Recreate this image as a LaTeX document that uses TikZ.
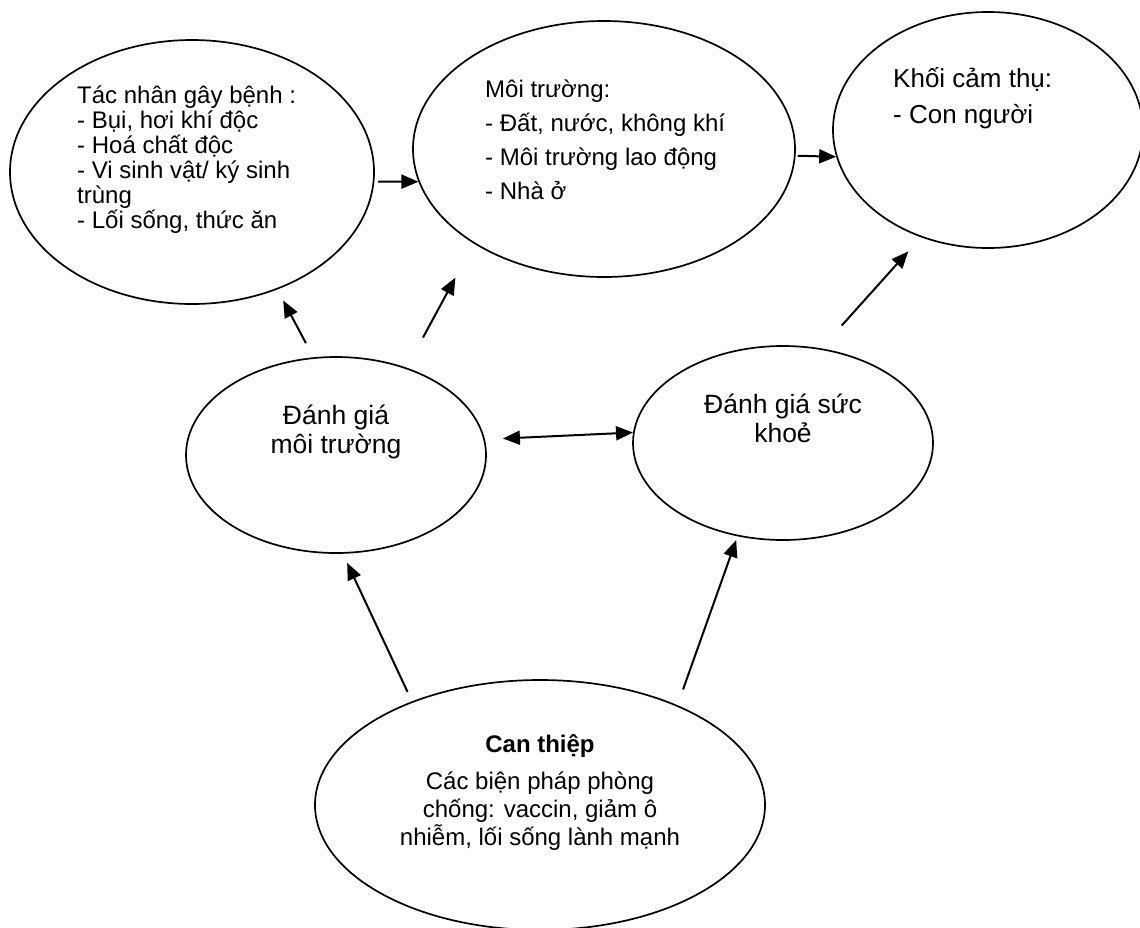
\documentclass[tikz,border=0pt]{standalone}
\usepackage{fontspec}
\setmainfont{Liberation Sans}
\usetikzlibrary{shapes.geometric,arrows.meta}
\begin{document}
\begin{tikzpicture}[x=1pt,y=-1pt,
  oval/.style={draw, ellipse, line width=1.7pt, inner sep=0pt},
  arr/.style={line width=2pt, -{Triangle[length=17pt,width=14pt]}},
  darr/.style={line width=2pt, {Triangle[length=17pt,width=14pt]}-{Triangle[length=17pt,width=14pt]}},
  txt/.style={inner sep=0pt, font=\fontsize{24}{25}\selectfont}]
\fill[white] (0,0) rectangle (1140,927);
\useasboundingbox (0,0) rectangle (1140,927);
% ellipses
\node[oval, minimum width=364pt, minimum height=264pt] (E1) at (192,172) {};
\node[oval, minimum width=382pt, minimum height=256pt] (E2) at (604,149) {};
\node[oval, minimum width=310pt, minimum height=236pt] (E3) at (988,130) {};
\node[oval, minimum width=300pt, minimum height=196pt] (E4) at (336,455) {};
\node[oval, minimum width=300pt, minimum height=194pt] (E5) at (783,443) {};
\node[oval, minimum width=450pt, minimum height=250pt] (E6) at (540,805) {};
% texts (base anchor = baseline of the last line)
\node[txt, anchor=base west, align=left] (T1) at (77,228)
  {Tác nhân gây bệnh :\\- Bụi, hơi khí độc\\- Hoá chất độc\\- Vi sinh vật/ ký sinh\\trùng\\- Lối sống, thức ăn};
\node[txt, font=\fontsize{24}{34}\selectfont, anchor=base west, align=left] (T2) at (485,199)
  {Môi trường:\\- Đất, nước, không khí\\- Môi trường lao động\\- Nhà ở};
\node[txt, font=\fontsize{26}{36}\selectfont, anchor=base west, align=left] (T3) at (893,123)
  {Khối cảm thụ:\\- Con người};
\node[txt, font=\fontsize{26.5}{29}\selectfont, anchor=base, align=center] (T4) at (336,453)
  {Đánh giá\\môi trường};
\node[txt, font=\fontsize{26.5}{29}\selectfont, anchor=base, align=center] (T5) at (783,442)
  {Đánh giá sức\\khoẻ};
\node[txt, font=\fontsize{24}{28}\selectfont, anchor=base, align=center] (T6) at (540,845)
  {\textbf{Can thiệp}\\[9pt]Các biện pháp phòng\\chống: vaccin, giảm ô\\nhiễm, lối sống lành mạnh};
% connectors
\draw[arr, shorten <=3.5pt] (E1.-3.15) -- (E2.190.1);
\draw[arr, shorten <=2pt] (E2.-2.7) -- (E3.190.5);
\draw[arr, shorten <=16pt, shorten >=12.4pt] (E4.103.9) -- (E1.-54.2);
\draw[arr, shorten <=34.3pt, shorten >=38.6pt] (E4.51.5) -- (E2.216.1);
\draw[darr, shorten <=18pt] (E4.6.56) -- (E5.176.2);
\draw[arr, shorten <=30.6pt, shorten >=18.9pt] (E5.68.6) -- (E3.-122.9);
\draw[arr, shorten <=10.4pt, shorten >=10pt] (E6.141.5) -- (E4.-86);
\draw[arr, shorten <=16.7pt, shorten >=4pt] (E6.36.8) -- (E5.-116.8);
\end{tikzpicture}
\end{document}
